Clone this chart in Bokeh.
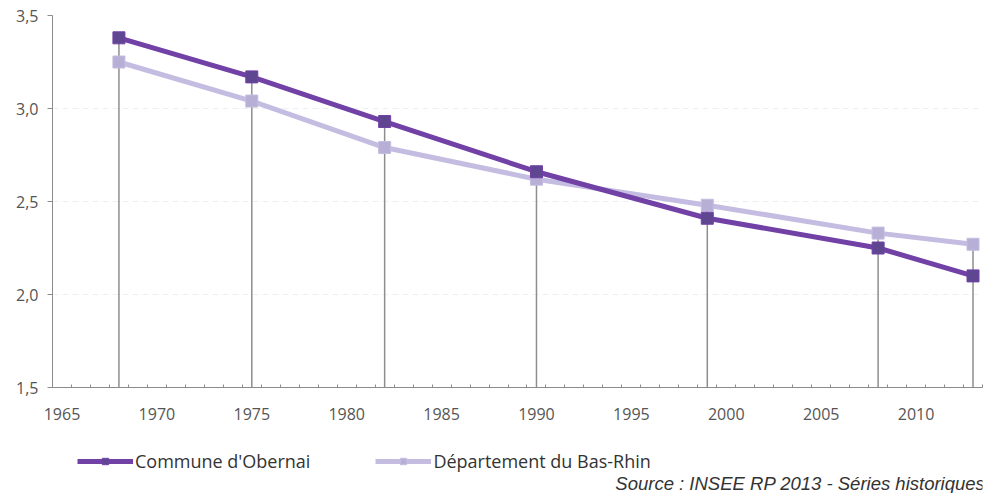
from bokeh.plotting import figure
from bokeh.layouts import column
from bokeh.models import (FixedTicker, LinearAxis, Legend, LegendItem, Label,
                          CustomJSTickFormatter, Range1d, ColumnDataSource)
from bokeh.embed import file_html
from bokeh.resources import INLINE

# ---- data (census dates, mid-year) ----
years = [1968.5, 1975.5, 1982.5, 1990.5, 1999.5, 2008.5, 2013.5]
obernai = [3.38, 3.17, 2.93, 2.66, 2.41, 2.25, 2.10]
bas_rhin = [3.25, 3.04, 2.79, 2.62, 2.48, 2.33, 2.27]
series_names = ["Commune d'Obernai", "Département du Bas-Rhin"]
x_tick_years = [1965, 1970, 1975, 1980, 1985, 1990, 1995, 2000, 2005, 2010]
y_ticks = [1.5, 2.0, 2.5, 3.0, 3.5]
y_tick_labels = ["1,5", "2,0", "2,5", "3,0", "3,5"]
source_text = "Source : INSEE RP 2013 - Séries historiques"

X0, X1 = 1965, 2014
Y0, Y1 = y_ticks[0], y_ticks[-1]

W, H_TOP, H_BOT = 989, 430, 63
LEFT = 52

C1_LINE, C1_MARK = "#7141a6", "#5e4690"
C2_LINE, C2_MARK = "#c4bde1", "#b7afd6"
AXIS_C = "#8c8c8c"
TXT_C = "#555555"
FONT = "Open Sans"

p = figure(width=W, height=H_TOP, output_backend="svg", toolbar_location=None,
           x_range=Range1d(X0, X1), y_range=Range1d(Y0, Y1),
           x_axis_location=None, y_axis_location=None,
           min_border_left=LEFT, min_border_right=7, min_border_top=15,
           min_border_bottom=43)
p.outline_line_color = None
p.xgrid.visible = False
p.ygrid.ticker = FixedTicker(ticks=y_ticks)
p.ygrid.grid_line_color = "#eceff4"
p.ygrid.grid_line_dash = "6 4"
p.ygrid.grid_line_width = 1

# y axis
yax = LinearAxis(ticker=FixedTicker(ticks=y_ticks),
                 major_label_overrides={v: s for v, s in zip(y_ticks, y_tick_labels)})
yax.axis_line_color = AXIS_C
yax.major_tick_line_color = AXIS_C
yax.major_tick_out = 5
yax.major_tick_in = 0
yax.minor_tick_line_color = None
yax.major_label_text_font = FONT
yax.major_label_text_font_size = "16px"
yax.major_label_text_color = TXT_C
yax.major_label_standoff = 9
p.add_layout(yax, "left")

# x axis: yearly inner ticks, labels centred in the year
xax = LinearAxis(ticker=FixedTicker(ticks=[y + 0.5 for y in x_tick_years],
                                    minor_ticks=list(range(X0, X1 + 1))),
                 formatter=CustomJSTickFormatter(code="return String(Math.floor(tick));"))
xax.axis_line_color = AXIS_C
xax.major_tick_line_color = None
xax.minor_tick_line_color = AXIS_C
xax.minor_tick_in = 3
xax.minor_tick_out = 0
xax.major_label_text_font = FONT
xax.major_label_text_font_size = "16px"
xax.major_label_text_color = TXT_C
xax.major_label_standoff = 14
p.add_layout(xax, "below")

# drop lines
top = [max(a, b) for a, b in zip(obernai, bas_rhin)]
src = ColumnDataSource(dict(x=years, top=top, base=[Y0] * len(years),
                            o=obernai, b=bas_rhin))
p.segment(x0="x", y0="top", x1="x", y1="base", source=src,
          line_color="#8e8e8e", line_width=1.5)

p.line("x", "b", source=src, line_color=C2_LINE, line_width=5)
p.scatter("x", "b", source=src, marker="square", size=12,
          fill_color=C2_MARK, line_color=C2_LINE, line_width=1)
p.line("x", "o", source=src, line_color=C1_LINE, line_width=5)
p.scatter("x", "o", source=src, marker="square", size=12,
          fill_color=C1_MARK, line_color=C1_LINE, line_width=1)

# ---- bottom strip: legend + source ----
q = figure(width=W, height=H_BOT, output_backend="svg", toolbar_location=None,
           x_range=Range1d(0, 1), y_range=Range1d(0, 1),
           x_axis_location=None, y_axis_location=None,
           min_border_left=0, min_border_right=0, min_border_top=0,
           min_border_bottom=0)
q.outline_line_color = None
q.grid.visible = False
nan = float("nan")
proxy = ColumnDataSource(dict(x=[nan], y=[nan]))
ql1 = q.line("x", "y", source=proxy, line_color=C1_LINE, line_width=5)
qm1 = q.scatter("x", "y", source=proxy, marker="square", size=12,
                fill_color=C1_MARK, line_color=C1_LINE)
ql2 = q.line("x", "y", source=proxy, line_color=C2_LINE, line_width=5)
qm2 = q.scatter("x", "y", source=proxy, marker="square", size=12,
                fill_color=C2_MARK, line_color=C2_LINE)

legend = Legend(items=[LegendItem(label=series_names[0], renderers=[ql1, qm1]),
                       LegendItem(label=series_names[1], renderers=[ql2, qm2])],
                orientation="horizontal", location=(77 - LEFT, 20))
legend.glyph_width = 56
legend.glyph_height = 16
legend.label_standoff = 2
legend.spacing = 65
legend.padding = 0
legend.margin = 0
legend.border_line_color = None
legend.background_fill_alpha = 0
legend.label_text_font = FONT
legend.label_text_font_size = "18px"
legend.label_text_color = "#333333"
q.add_layout(legend, "center")

q.add_layout(Label(x=985 - LEFT, y=10, x_units="screen", y_units="screen",
                   text=source_text, text_align="right",
                   text_baseline="alphabetic", text_font="Liberation Sans",
                   text_font_style="italic", text_font_size="18.5px",
                   text_color="#333333"))

layout = column(p, q, spacing=0)
open("out.html", "w").write(file_html(layout, INLINE))
